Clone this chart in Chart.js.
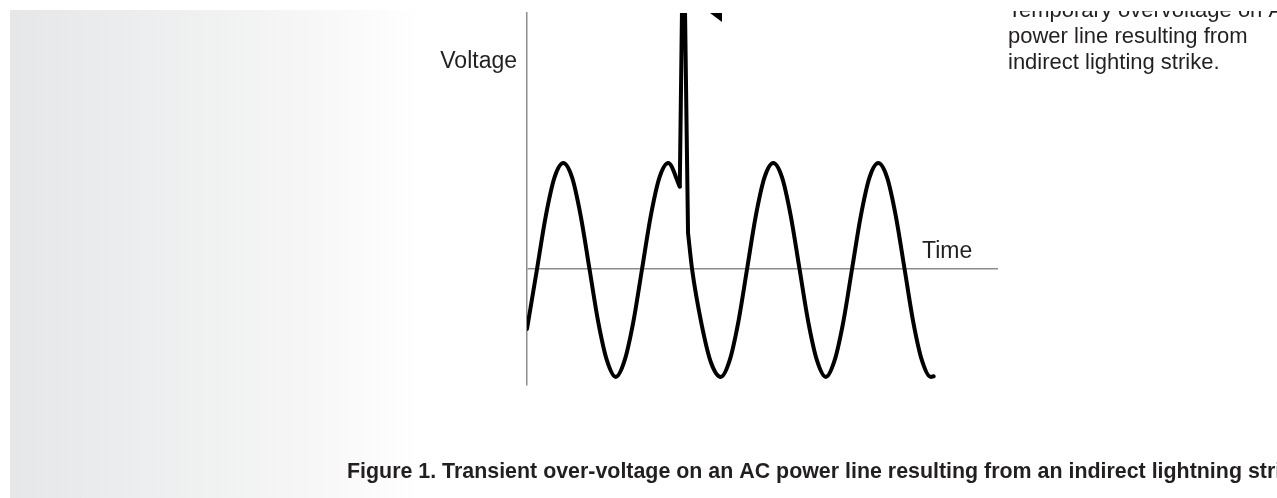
<!DOCTYPE html>
<html><head><meta charset="utf-8">
<script src="https://cdn.jsdelivr.net/npm/chart.js@4"></script>
<style>html,body{margin:0;padding:0;background:#fff;overflow:hidden}#wrap{position:relative;width:1277px;height:498px}canvas{display:block}</style>
</head><body><div id="wrap"><canvas id="c" width="1277" height="498"></canvas></div>
<script>
// Time (ms) and voltage (V); null breaks the line where the spike is drawn.
const timeMs = [0, 1.59, 2.98, 4.37, 5.76, 7.15, 8.53, 9.92, 11.31, 12.70, 14.09, 15.48, 16.87, 18.26, 19.64, 21.03, 22.42, 24.25, 24.83, 25.56, 26.2, 27.7, 29.2, 30.76, 32.15, 33.54, 34.93, 36.31, 37.70, 39.09, 40.48, 41.87, 43.26, 44.65, 46.04, 47.43, 48.81, 50.20, 51.59, 52.98, 54.37, 55.76, 57.15, 58.54, 59.93, 61.31, 62.70, 64.09, 64.55];
const voltage = [-96, 0, 85, 147, 170, 147, 85, 0, -85, -147, -173, -147, -85, 0, 85, 147, 170, 132, null, 58, 0, -88, -150, -173, -147, -85, 0, 85, 147, 170, 147, 85, 0, -85, -147, -173, -147, -85, 0, 85, 147, 170, 147, 85, 0, -85, -147, -173, -172];
// Lightning spike
const spikeTimeMs = [24.25, 24.83, 25.56];
const spikeVoltage = [132, 600, 58];
// Arrow head (clipped at top) pointing from the note to the spike
const arrowTimeMs = [29.05, 30.95, 30.95];
const arrowVoltage = [410.6, 410.6, 396];
const axisRange = {tMin: 0, tMax: 74.76, vMin: -186, vMax: 410.6};
const yLabel = 'Voltage';
const xLabel = 'Time';
const noteLines = ['Temporary overvoltage on AC', 'power line resulting from', 'indirect lighting strike.'];
const caption = 'Figure 1. Transient over-voltage on an AC power line resulting from an indirect lightning strike.';

const mainPts = timeMs.map((t, i) => ({x: t, y: voltage[i]}));
const spikePts = spikeTimeMs.map((t, i) => ({x: t, y: spikeVoltage[i]}));

const AXIS_GRAY = '#8c8c8c';
const TEXT = '#231f20';

const decor = {
  id: 'decor',
  beforeDraw(chart) {
    const ctx = chart.ctx;
    ctx.save();
    ctx.fillStyle = '#fff';
    ctx.fillRect(0, 0, chart.width, chart.height);
    const g = ctx.createLinearGradient(10, 0, 420, 0);
    g.addColorStop(0, '#e6e7e8');
    g.addColorStop(0.25, '#ebeced');
    g.addColorStop(0.5, '#f0f1f1');
    g.addColorStop(0.75, '#f7f7f7');
    g.addColorStop(1, '#ffffff');
    ctx.fillStyle = g;
    ctx.fillRect(10, 10, 410, chart.height - 10);
    ctx.restore();
  },
  afterDraw(chart) {
    const ctx = chart.ctx;
    const ca = chart.chartArea;
    const xs = chart.scales.x, ys = chart.scales.y;
    ctx.save();
    ctx.fillStyle = TEXT;
    ctx.textBaseline = 'alphabetic';
    ctx.font = '23px "Liberation Sans", Arial, sans-serif';
    ctx.textAlign = 'right';
    ctx.fillText(yLabel, ca.left - 10, ca.top + 55);
    ctx.textAlign = 'left';
    ctx.fillText(xLabel, ca.right - 76, ys.getPixelForValue(0) - 11);
    // note text, clipped at the top like the source crop
    ctx.save();
    ctx.beginPath();
    ctx.rect(0, 11, chart.width, chart.height);
    ctx.clip();
    ctx.font = '22px "Liberation Sans", Arial, sans-serif';
    noteLines.forEach((s, i) => ctx.fillText(s, 1008, 17 + i * 26));
    ctx.restore();
    // arrow head
    ctx.beginPath();
    arrowTimeMs.forEach((t, i) => {
      const px = xs.getPixelForValue(t), py = ys.getPixelForValue(arrowVoltage[i]);
      if (i === 0) ctx.moveTo(px, py); else ctx.lineTo(px, py);
    });
    ctx.closePath();
    ctx.fillStyle = '#000';
    ctx.fill();
    // caption
    ctx.fillStyle = TEXT;
    ctx.font = 'bold 21.4px "Liberation Sans", Arial, sans-serif';
    ctx.fillText(caption, 347, 478);
    ctx.restore();
  }
};

new Chart(document.getElementById('c'), {
  type: 'line',
  data: {
    datasets: [
      {data: mainPts, borderColor: '#000', borderWidth: 4, pointRadius: 0, cubicInterpolationMode: 'monotone', spanGaps: false, borderJoinStyle: 'round', borderCapStyle: 'round', fill: false},
      {data: spikePts, borderColor: '#000', borderWidth: 4, pointRadius: 0, tension: 0, borderJoinStyle: 'miter', borderCapStyle: 'butt', fill: false}
    ]
  },
  options: {
    responsive: false,
    animation: false,
    devicePixelRatio: 1,
    layout: {padding: {left: 527, top: 13, right: 279, bottom: 113}},
    plugins: {legend: {display: false}, tooltip: {enabled: false}, title: {display: false}},
    scales: {
      x: {type: 'linear', min: axisRange.tMin, max: axisRange.tMax, display: false},
      y: {
        type: 'linear', min: axisRange.vMin, max: axisRange.vMax,
        afterFit(s) { s.width = 0; },
        afterBuildTicks(s) { s.ticks = [{value: 0}]; },
        ticks: {display: false},
        grid: {drawTicks: false, color: AXIS_GRAY, lineWidth: 1.5},
        border: {display: true, color: AXIS_GRAY, width: 1.5}
      }
    }
  },
  plugins: [decor]
});
</script>
</body></html>
